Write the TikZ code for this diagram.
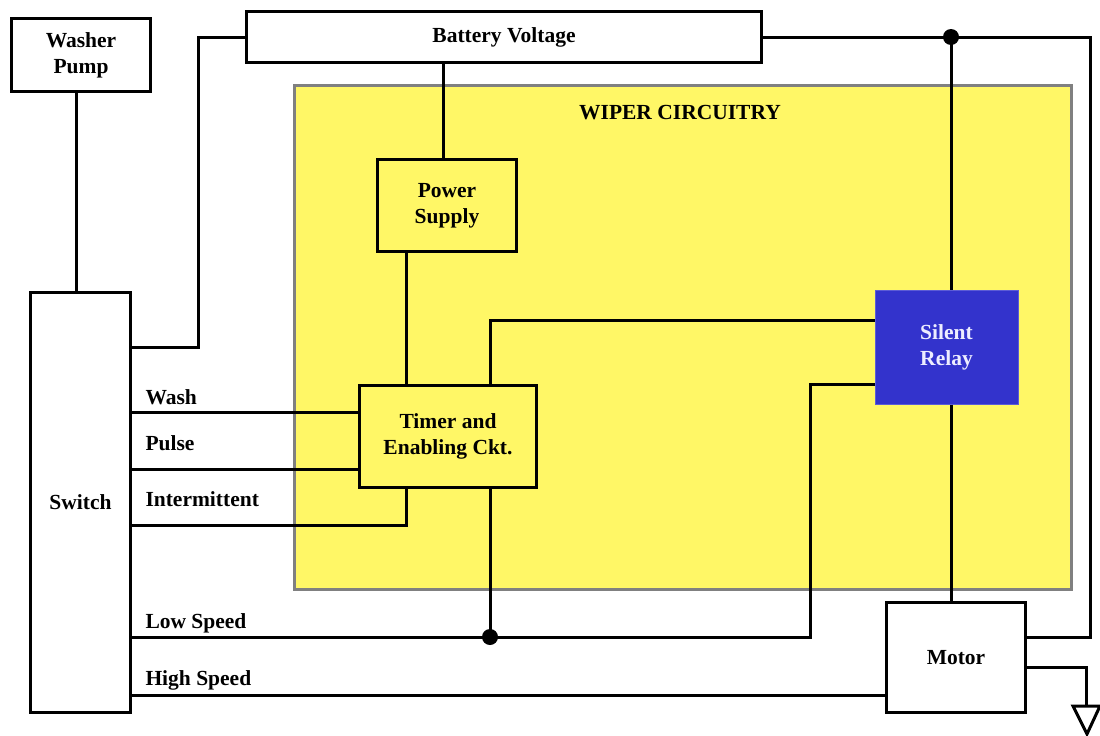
\documentclass[tikz,border=0pt]{standalone}
\usepackage{fontspec}
\setmainfont{Liberation Serif}
\usepackage{tikz}
\usetikzlibrary{positioning}
\definecolor{relayblue}{RGB}{51,51,204}

\begin{document}
\begin{tikzpicture}[x=1pt, y=-1pt, line width=3pt,
  every node/.style={font=\fontsize{21.5}{26}\selectfont\bfseries},
  blk/.style={draw,fill=white,align=center,inner sep=0pt},
  lbl/.style={anchor=base west,inner xsep=0pt}]
  \useasboundingbox (0,0) rectangle (1100,736);
  \node[draw=gray,fill=yellow!60,minimum width=777,minimum height=504] (wiper) at (683,337.5) {};
  \node (title) at (680,113) {WIPER CIRCUITRY};

  \node[blk,minimum width=139,minimum height=73] (washer) at (81,55) {Washer\\Pump};
  \node[blk,minimum width=515,minimum height=51] (battery) at (504,37) {Battery Voltage};
  \node[blk,fill=yellow!60,minimum width=139,minimum height=92] (power) at (447,205.5) {Power\\Supply};
  \node[blk,fill=yellow!60,minimum width=177,minimum height=102] (timer) at (448,436.5) {Timer and\\Enabling Ckt.};
  \node[fill=relayblue,draw=relayblue!80!white,line width=1pt,text=white!93!blue,align=center,
    minimum width=143,minimum height=114] (relay) at (946.5,347) {Silent\\Relay};
  \node[blk,minimum width=100,minimum height=420] (switch) at (80.5,502.5) {Switch};
  \node[blk,minimum width=139,minimum height=110] (motor) at (956,657.5) {Motor};

  \coordinate (vbat) at (951,37);
  \coordinate (lowdot) at (490,637);
  \coordinate (gnd) at (1086,667);

  \draw (washer.south -| 76,0) -- (switch.north -| 76,0);
  \draw (switch.east |- 0,347) -| (198,37) -- (battery.west);
  \draw (battery.east) -| (1090,637) -- (motor.east |- 0,637);
  \draw (vbat) -- (relay.north -| vbat);
  \draw (relay.south -| vbat) -- (motor.north -| vbat);
  \draw (battery.south -| 443,0) -- (power.north -| 443,0);
  \draw (power.south -| 406,0) -- (timer.north -| 406,0);
  \draw (timer.north -| 490,0) |- (relay.west |- 0,320);
  \draw (relay.west |- 0,384) -| (810,637) -- (switch.east |- 0,637);
  \draw (timer.south -| lowdot) -- (lowdot);
  \draw (switch.east |- 0,412) -- (timer.west |- 0,412);
  \draw (switch.east |- 0,469) -- (timer.west |- 0,469);
  \draw (switch.east |- 0,525) -| (timer.south -| 406,0);
  \draw (switch.east |- 0,695) -- (motor.west |- 0,695);
  \draw (motor.east |- gnd) -| (1086,706);
  \draw (1073,706) -- (1100,706) -- (1087,734) -- cycle;
  \fill (vbat) circle (8);
  \fill (lowdot) circle (8);

  \node[lbl] (wash) at (144,404) {Wash};
  \node[lbl] (pulse) at (144,450) {Pulse};
  \node[lbl] (inter) at (144,506) {Intermittent};
  \node[lbl] (low) at (144,628) {Low Speed};
  \node[lbl] (high) at (144,685) {High Speed};
\end{tikzpicture}
\end{document}
